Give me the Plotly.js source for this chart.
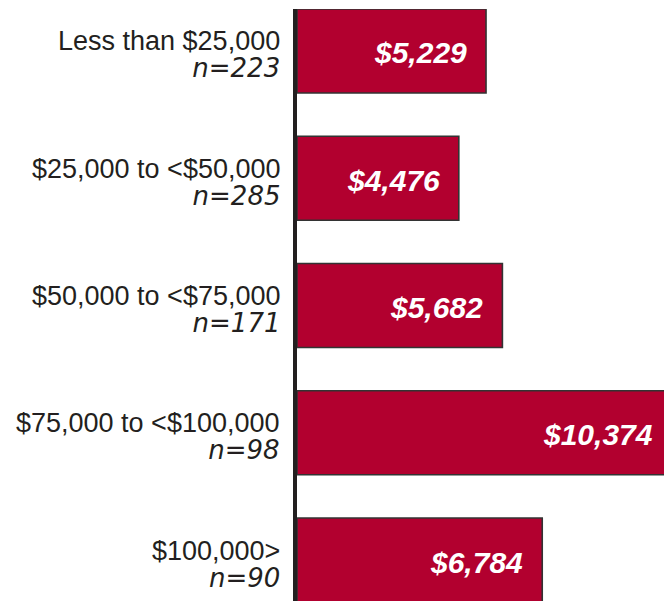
<!DOCTYPE html>
<html>
<head>
<meta charset="utf-8">
<script src="https://cdn.plot.ly/plotly-3.0.1.min.js"></script>
<style>
html, body { margin: 0; padding: 0; overflow: hidden; background: #fff; width: 664px; height: 601px; }
#chart { width: 700px; height: 601px; }
</style>
</head>
<body>
<div id="chart"></div>
<script>
const categories = ["Less than $25,000", "$25,000 to <$50,000", "$50,000 to <$75,000", "$75,000 to <$100,000", "$100,000>"];
const sampleSizes = [223, 285, 171, 98, 90];
const values = [5229, 4476, 5682, 10374, 6784];
const valueLabels = ["$5,229", "$4,476", "$5,682", "$10,374", "$6,784"];

const labelColor = "#231f20";

function esc(s) { return s.replace(/&/g, "&amp;").replace(/</g, "&lt;").replace(/>/g, "&gt;"); }

const trace = {
  type: "bar",
  orientation: "h",
  x: values,
  y: categories,
  width: 0.66,
  marker: { color: "#b2002f", line: { color: "#333333", width: 1.6 } },
  hoverinfo: "none"
};

const annotations = [];
categories.forEach((c, i) => {
  annotations.push({
    xref: "paper", yref: "y", x: 0, y: c,
    xanchor: "right", yanchor: "middle", align: "right",
    xshift: -15, yshift: -4,
    showarrow: false,
    text: '<span style="font-size:27px;font-family:Liberation Sans, Arial, sans-serif">' + esc(c) + '</span><br>' +
          '<span style="font-size:26px;font-family:DejaVu Sans, sans-serif;font-style:italic">n=' + sampleSizes[i] + '</span>',
    font: { family: "Liberation Sans, Arial, sans-serif", size: 21, color: labelColor }
  });
  annotations.push({
    xref: "x", yref: "y", x: values[i], y: c,
    xanchor: "right", yanchor: "middle",
    xshift: -17, yshift: -2,
    showarrow: false,
    text: valueLabels[i],
    font: { family: "Liberation Sans, Arial, sans-serif", size: 30, weight: "bold", style: "italic", color: "#ffffff" }
  });
});

const layout = {
  width: 700,
  height: 601,
  margin: { l: 297, r: 0, t: 9, b: 0, pad: 0 },
  paper_bgcolor: "#ffffff",
  plot_bgcolor: "#ffffff",
  showlegend: false,
  xaxis: { range: [0, 11148], visible: false, fixedrange: true },
  yaxis: {
    type: "category",
    categoryorder: "array",
    categoryarray: categories,
    range: [4.322, -0.33],
    showticklabels: false,
    ticks: "",
    showgrid: false,
    zeroline: false,
    showline: true,
    linecolor: "#231f20",
    linewidth: 4,
    fixedrange: true
  },
  annotations: annotations
};

Plotly.newPlot("chart", [trace], layout, { displayModeBar: false, staticPlot: true });
</script>
</body>
</html>
